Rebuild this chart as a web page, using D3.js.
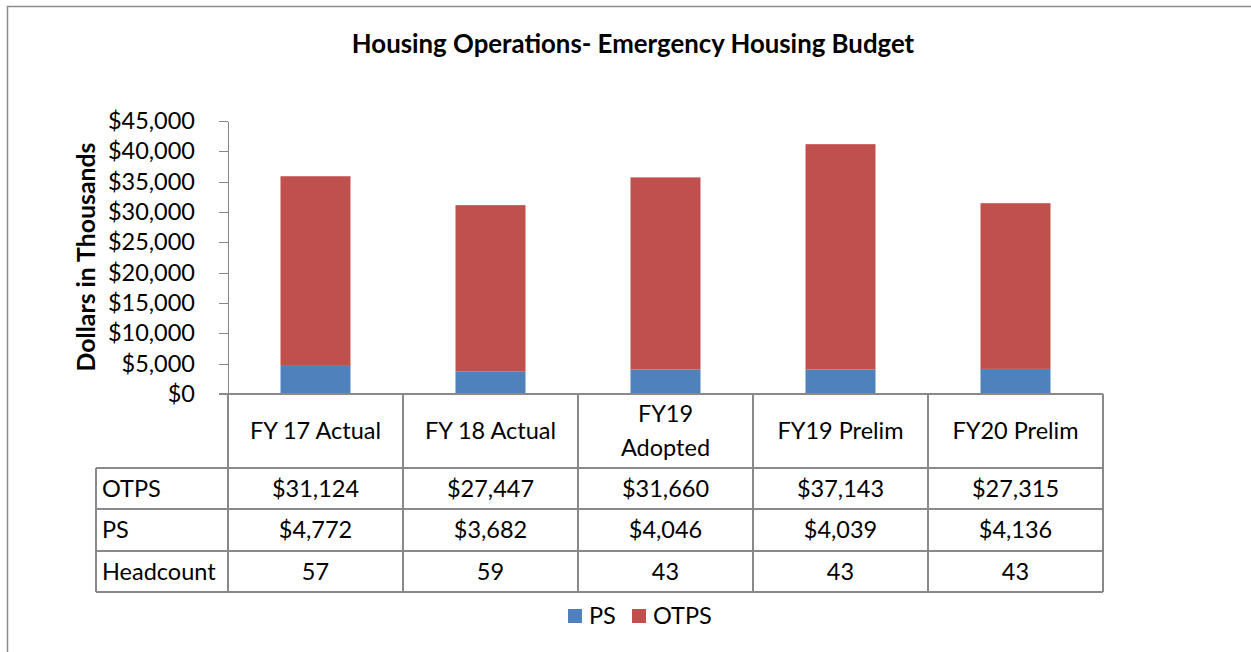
<!DOCTYPE html>
<meta charset="utf-8">
<style>
body { margin: 0; background: #fff; }
text { font-family: Lato, "Open Sans", sans-serif; fill: #000; }
.axis path, .axis line { stroke: #868686; stroke-width: 1.3; shape-rendering: crispEdges; }
.grid line { stroke: #898989; stroke-width: 1.3; shape-rendering: crispEdges; }
</style>
<script src="https://d3js.org/d3.v7.min.js"></script>
<body>
<div id="chart"></div>
<script>
// data
var categories = ["FY 17 Actual", "FY 18 Actual", "FY19 Adopted", "FY19 Prelim", "FY20 Prelim"];
var otps = [31124, 27447, 31660, 37143, 27315];
var ps = [4772, 3682, 4046, 4039, 4136];
var headcount = [57, 59, 43, 43, 43];
var yTicks = [0, 5000, 10000, 15000, 20000, 25000, 30000, 35000, 40000, 45000];

var W = 1251, H = 652;
var plot = {left: 228, right: 1103, top: 121, bottom: 394};
var rowY = [394, 468, 509, 551, 592];  // table row edges
var tableLeft = 96;
var colors = {PS: "#4F81BD", OTPS: "#C0504D"};
var money = function(d) { return "$" + d3.format(",")(d); };

var svg = d3.select("#chart").append("svg")
    .attr("width", W)
    .attr("height", H);

// outer border (only top and left show in frame)
svg.append("path")
  .attr("d", "M7.5," + H + "V6.5H" + W)
  .attr("fill", "none")
  .attr("stroke", "#8a8a8a")
  .attr("stroke-width", 1.5);

// title
svg.append("text")
  .attr("x", 633)
  .attr("y", 53)
  .attr("text-anchor", "middle")
  .style("font-weight", "bold")
  .style("font-size", "25.8px")
  .text("Housing Operations- Emergency Housing Budget");

var x = d3.scaleBand()
  .domain(categories)
  .range([plot.left, plot.right]);

var y = d3.scaleLinear()
  .domain([0, 45000])
  .range([plot.bottom, plot.top]);

// stacked data
var rows = categories.map(function(c, i) { return {cat: c, PS: ps[i], OTPS: otps[i]}; });
var stack = d3.stack().keys(["PS", "OTPS"])(rows);

var barW = x.bandwidth() * 0.4;
svg.append("g").selectAll("g")
  .data(stack)
  .enter().append("g")
    .attr("fill", function(s) { return colors[s.key]; })
  .selectAll("rect")
  .data(function(s) { return s; })
  .enter().append("rect")
    .attr("x", function(d) { return x(d.data.cat) + (x.bandwidth() - barW) / 2; })
    .attr("y", function(d) { return y(d[1]); })
    .attr("width", barW)
    .attr("height", function(d) { return y(d[0]) - y(d[1]); });

// y axis
var yAxis = svg.append("g")
  .attr("class", "axis")
  .attr("transform", "translate(" + plot.left + ",0)")
  .call(d3.axisLeft(y).tickValues(yTicks).tickFormat(money).tickSize(9).tickSizeOuter(0).tickPadding(24));
yAxis.selectAll("text")
  .style("font-size", "23.5px")
  .style("font-family", "Lato, sans-serif")
  .attr("fill", "#000");

// y axis title
svg.append("text")
  .attr("transform", "translate(95,257)rotate(-90)")
  .attr("text-anchor", "middle")
  .style("font-weight", "bold")
  .style("font-size", "24.8px")
  .text("Dollars in Thousands");

// data table grid
var grid = svg.append("g").attr("class", "grid");
grid.append("line")
  .attr("x1", plot.left - 9).attr("x2", plot.right)
  .attr("y1", rowY[0]).attr("y2", rowY[0]);
rowY.slice(1).forEach(function(ry) {
  grid.append("line")
    .attr("x1", tableLeft).attr("x2", plot.right)
    .attr("y1", ry).attr("y2", ry);
});
grid.append("line")
  .attr("x1", tableLeft).attr("x2", tableLeft)
  .attr("y1", rowY[1]).attr("y2", rowY[4]);
categories.map(function(c) { return x(c); }).concat([plot.right]).forEach(function(vx) {
  grid.append("line")
    .attr("x1", vx).attr("x2", vx)
    .attr("y1", rowY[0]).attr("y2", rowY[4]);
});

// header labels
var headerLines = {"FY19 Adopted": ["FY19", "Adopted"]};
categories.forEach(function(c) {
  var lines = headerLines[c] || [c];
  var cy = (rowY[0] + rowY[1]) / 2;
  lines.forEach(function(t, k) {
    svg.append("text")
      .attr("x", x(c) + x.bandwidth() / 2)
      .attr("y", cy + (k - (lines.length - 1) / 2) * 34)
      .attr("dy", "0.36em")
      .attr("text-anchor", "middle")
      .style("font-size", "23.5px")
      .text(t);
  });
});

// table rows
var tableRows = [
  {label: "OTPS", values: otps.map(money)},
  {label: "PS", values: ps.map(money)},
  {label: "Headcount", values: headcount.map(String)}
];
tableRows.forEach(function(r, i) {
  var cy = (rowY[i + 1] + rowY[i + 2]) / 2;
  svg.append("text")
    .attr("x", tableLeft + 6)
    .attr("y", cy)
    .attr("dy", "0.36em")
    .style("font-size", "23.5px")
    .text(r.label);
  r.values.forEach(function(v, j) {
    svg.append("text")
      .attr("x", x(categories[j]) + x.bandwidth() / 2)
      .attr("y", cy)
      .attr("dy", "0.36em")
      .attr("text-anchor", "middle")
      .style("font-size", "23.5px")
      .text(v);
  });
});

// legend
var legend = [{key: "PS", x: 568}, {key: "OTPS", x: 632}];
legend.forEach(function(l) {
  svg.append("rect")
    .attr("x", l.x).attr("y", 609)
    .attr("width", 14).attr("height", 14)
    .attr("fill", colors[l.key]);
  svg.append("text")
    .attr("x", l.x + 21)
    .attr("y", 616)
    .attr("dy", "0.36em")
    .style("font-size", "23.5px")
    .text(l.key);
});
</script>
</body>
